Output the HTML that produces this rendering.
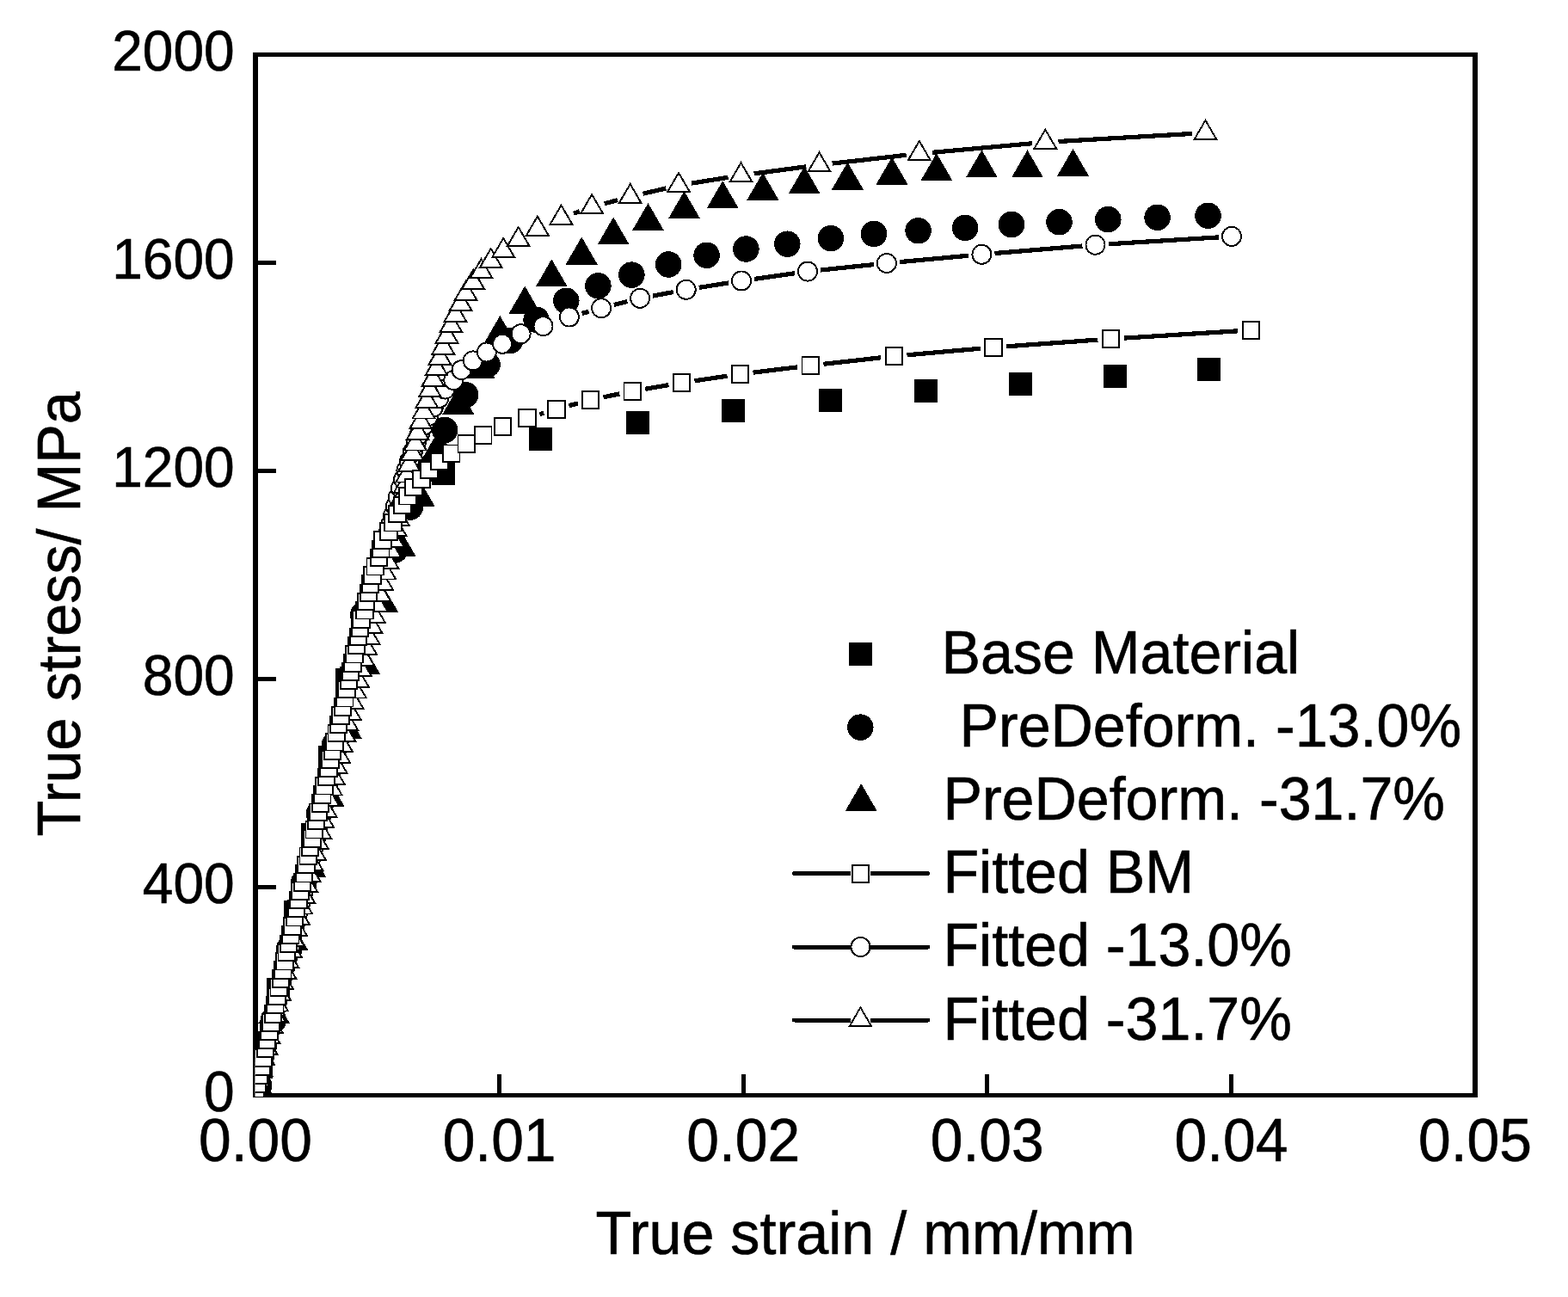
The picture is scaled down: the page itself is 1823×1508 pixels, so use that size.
<!DOCTYPE html><html><head><meta charset="utf-8"><style>html,body{margin:0;padding:0;background:#fff;overflow:hidden}svg{display:block}</style></head><body><svg width="1823" height="1508" viewBox="0 0 1823 1508">
<rect width="100%" height="100%" fill="#fff"/><g shape-rendering="crispEdges">
<g fill="#000">
<rect x="294" y="61" width="6" height="1215"/>
<rect x="1712" y="61" width="6" height="1215"/>
<rect x="294" y="61" width="1424" height="5"/>
<rect x="294" y="1271" width="1424" height="5"/>
<rect x="300" y="1029" width="21" height="5"/>
<rect x="300" y="787" width="21" height="5"/>
<rect x="300" y="545" width="21" height="5"/>
<rect x="300" y="303" width="21" height="5"/>
<rect x="578.1" y="1249" width="5" height="22"/>
<rect x="861.7" y="1249" width="5" height="22"/>
<rect x="1145.3" y="1249" width="5" height="22"/>
<rect x="1428.9" y="1249" width="5" height="22"/>
</g>
<defs><clipPath id="pc"><rect x="296.8" y="63.5" width="1418.2" height="1211.4"/></clipPath></defs>
<g clip-path="url(#pc)">
<g fill="#000"><rect x="290.4" y="1226.5" width="27.0" height="27.0"/><rect x="310.4" y="1136.5" width="27.0" height="27.0"/><rect x="330.3" y="1046.5" width="27.0" height="27.0"/><rect x="350.2" y="956.5" width="27.0" height="27.0"/><rect x="370.2" y="866.5" width="27.0" height="27.0"/><rect x="390.1" y="776.5" width="27.0" height="27.0"/><rect x="501.7" y="536.7" width="27.0" height="27.0"/><rect x="615.2" y="496.9" width="27.0" height="27.0"/><rect x="727.8" y="478" width="27.0" height="27.0"/><rect x="839.3" y="464.4" width="27.0" height="27.0"/><rect x="951.9" y="452.3" width="27.0" height="27.0"/><rect x="1062.5" y="441.2" width="27.0" height="27.0"/><rect x="1173" y="433" width="27.0" height="27.0"/><rect x="1283.1" y="423.9" width="27.0" height="27.0"/><rect x="1392.4" y="416.4" width="27.0" height="27.0"/></g>
<g fill="#000"><circle cx="301" cy="1262" r="15.25"/><circle cx="317.9" cy="1186" r="15.25"/><circle cx="336.3" cy="1103" r="15.25"/><circle cx="353.3" cy="1026" r="15.25"/><circle cx="371" cy="946" r="15.25"/><circle cx="388.8" cy="866" r="15.25"/><circle cx="406.5" cy="786" r="15.25"/><circle cx="422.2" cy="715" r="15.25"/><circle cx="459.2" cy="639.5" r="15.25"/><circle cx="477" cy="589.5" r="15.25"/><circle cx="497" cy="545" r="15.25"/><circle cx="517.2" cy="500" r="15.25"/><circle cx="541" cy="459.1" r="15.25"/><circle cx="566.6" cy="424" r="15.25"/><circle cx="593" cy="396" r="15.25"/><circle cx="623.6" cy="371.8" r="15.25"/><circle cx="658.3" cy="349.8" r="15.25"/><circle cx="695.4" cy="332.3" r="15.25"/><circle cx="734.4" cy="319.6" r="15.25"/><circle cx="777.2" cy="307.5" r="15.25"/><circle cx="821.6" cy="296.8" r="15.25"/><circle cx="867.4" cy="289.5" r="15.25"/><circle cx="915.3" cy="283.7" r="15.25"/><circle cx="965.9" cy="277.2" r="15.25"/><circle cx="1016" cy="271.9" r="15.25"/><circle cx="1067.6" cy="268.2" r="15.25"/><circle cx="1122.2" cy="264.9" r="15.25"/><circle cx="1176" cy="261" r="15.25"/><circle cx="1231.5" cy="258.2" r="15.25"/><circle cx="1288.3" cy="255.1" r="15.25"/><circle cx="1345.6" cy="252.8" r="15.25"/><circle cx="1404.5" cy="250.8" r="15.25"/></g>
<g fill="#000"><path d="M298 1240L316.5 1272H279.5Z"/><path d="M318.6 1158L337.1 1190H300.1Z"/><path d="M339.6 1072.5L358.1 1104.5H321.1Z"/><path d="M360.6 987.7L379.1 1019.7H342.1Z"/><path d="M382.2 905.9L400.7 937.9H363.7Z"/><path d="M402.4 827.1L420.9 859.1H383.9Z"/><path d="M423.6 751.8L442.1 783.8H405.1Z"/><path d="M444.6 679.7L463.1 711.7H426.1Z"/><path d="M465.1 615L483.6 647H446.6Z"/><path d="M487 556.6L505.5 588.6H468.5Z"/><path d="M510 500L528.5 532H491.5Z"/><path d="M532.8 449.7L551.3 481.7H514.3Z"/><path d="M557 408L575.5 440H538.5Z"/><path d="M581.3 367L599.8 399H562.8Z"/><path d="M610.2 332.5L628.7 364.5H591.7Z"/><path d="M641.3 301.4L659.8 333.4H622.8Z"/><path d="M676.2 275.5L694.7 307.5H657.7Z"/><path d="M713.2 252.4L731.7 284.4H694.7Z"/><path d="M753.5 236.1L772 268.1H735Z"/><path d="M795.5 222.2L814 254.2H777Z"/><path d="M840.2 210.2L858.7 242.2H821.7Z"/><path d="M886.9 200.6L905.4 232.6H868.4Z"/><path d="M935.2 193.3L953.7 225.3H916.7Z"/><path d="M985.4 188.5L1003.9 220.5H966.9Z"/><path d="M1037 182.6L1055.5 214.6H1018.5Z"/><path d="M1088.9 178.1L1107.4 210.1H1070.4Z"/><path d="M1194.5 174.4L1213 206.4H1176Z"/><path d="M1141.4 174.4L1159.9 206.4H1122.9Z"/><path d="M1247.5 172.8L1266 204.8H1229Z"/></g>
<path d="M676.5 364.4L684.5 362.3M713.8 354.5L729.4 350.5M759 344L782.8 339.6M812.7 334.4L847 328.9M877 324.4L924 317.7M954.1 314L1015.8 307.6M1046 304.6L1126.3 297.2M1156.5 294.5L1258.4 286M1288.7 283.8L1416.8 275.9" stroke="#000" stroke-width="5.2" fill="none"/>
<g fill="#fff" stroke="#000" stroke-width="1.9"><circle cx="297.5" cy="1269.2" r="11.05"/><circle cx="300" cy="1258.8" r="11.05"/><circle cx="302.4" cy="1248.3" r="11.05"/><circle cx="304.9" cy="1237.8" r="11.05"/><circle cx="307.4" cy="1227.4" r="11.05"/><circle cx="309.9" cy="1216.9" r="11.05"/><circle cx="312.3" cy="1206.4" r="11.05"/><circle cx="314.8" cy="1195.9" r="11.05"/><circle cx="317.3" cy="1185.5" r="11.05"/><circle cx="319.7" cy="1175" r="11.05"/><circle cx="322.2" cy="1164.5" r="11.05"/><circle cx="324.7" cy="1154.1" r="11.05"/><circle cx="327.2" cy="1143.6" r="11.05"/><circle cx="329.6" cy="1133.1" r="11.05"/><circle cx="332.1" cy="1122.7" r="11.05"/><circle cx="334.6" cy="1112.2" r="11.05"/><circle cx="337" cy="1101.7" r="11.05"/><circle cx="339.5" cy="1091.2" r="11.05"/><circle cx="342" cy="1080.8" r="11.05"/><circle cx="344.5" cy="1070.3" r="11.05"/><circle cx="346.9" cy="1059.8" r="11.05"/><circle cx="349.4" cy="1049.4" r="11.05"/><circle cx="351.9" cy="1038.9" r="11.05"/><circle cx="354.3" cy="1028.4" r="11.05"/><circle cx="356.8" cy="1018" r="11.05"/><circle cx="359.3" cy="1007.5" r="11.05"/><circle cx="361.8" cy="997" r="11.05"/><circle cx="364.2" cy="986.5" r="11.05"/><circle cx="366.7" cy="976.1" r="11.05"/><circle cx="369.2" cy="965.6" r="11.05"/><circle cx="371.6" cy="955.1" r="11.05"/><circle cx="374.1" cy="944.7" r="11.05"/><circle cx="376.6" cy="934.2" r="11.05"/><circle cx="379" cy="923.7" r="11.05"/><circle cx="381.5" cy="913.3" r="11.05"/><circle cx="384" cy="902.8" r="11.05"/><circle cx="386.5" cy="892.3" r="11.05"/><circle cx="388.9" cy="881.8" r="11.05"/><circle cx="391.4" cy="871.4" r="11.05"/><circle cx="393.9" cy="860.9" r="11.05"/><circle cx="396.3" cy="850.4" r="11.05"/><circle cx="398.8" cy="840" r="11.05"/><circle cx="401.3" cy="829.5" r="11.05"/><circle cx="403.8" cy="819" r="11.05"/><circle cx="406.2" cy="808.6" r="11.05"/><circle cx="408.7" cy="798.1" r="11.05"/><circle cx="411.2" cy="787.6" r="11.05"/><circle cx="413.7" cy="777.1" r="11.05"/><circle cx="416.1" cy="766.7" r="11.05"/><circle cx="418.6" cy="756.2" r="11.05"/><circle cx="421.1" cy="745.7" r="11.05"/><circle cx="423.6" cy="735.3" r="11.05"/><circle cx="426.1" cy="724.8" r="11.05"/><circle cx="428.6" cy="714.3" r="11.05"/><circle cx="431.1" cy="703.9" r="11.05"/><circle cx="433.6" cy="693.4" r="11.05"/><circle cx="436.1" cy="682.9" r="11.05"/><circle cx="438.6" cy="672.4" r="11.05"/><circle cx="441.2" cy="662" r="11.05"/><circle cx="443.7" cy="651.5" r="11.05"/><circle cx="446.3" cy="641" r="11.05"/><circle cx="448.9" cy="630.6" r="11.05"/><circle cx="451.6" cy="620.1" r="11.05"/><circle cx="454.3" cy="609.6" r="11.05"/><circle cx="457.1" cy="599.2" r="11.05"/><circle cx="459.9" cy="588.7" r="11.05"/><circle cx="462.8" cy="578.2" r="11.05"/><circle cx="465.9" cy="567.7" r="11.05"/><circle cx="469.1" cy="557.3" r="11.05"/><circle cx="472.4" cy="546.8" r="11.05"/><circle cx="475.9" cy="536.3" r="11.05"/><circle cx="479.7" cy="525.9" r="11.05"/><circle cx="483.7" cy="515.4" r="11.05"/><circle cx="488" cy="504.9" r="11.05"/><circle cx="492.8" cy="494.5" r="11.05"/><circle cx="498" cy="484" r="11.05"/><circle cx="503.8" cy="473.5" r="11.05"/><circle cx="510.3" cy="463" r="11.05"/><circle cx="517.5" cy="452.6" r="11.05"/><circle cx="527.3" cy="442.1" r="11.05"/><circle cx="536.6" cy="430.1" r="11.05"/><circle cx="549.8" cy="419.4" r="11.05"/><circle cx="565.9" cy="409.5" r="11.05"/><circle cx="584" cy="399.8" r="11.05"/><circle cx="605.6" cy="388.2" r="11.05"/><circle cx="631.5" cy="379.2" r="11.05"/><circle cx="661.9" cy="368.5" r="11.05"/><circle cx="699.1" cy="358.2" r="11.05"/><circle cx="744.1" cy="346.8" r="11.05"/><circle cx="797.7" cy="336.8" r="11.05"/><circle cx="862" cy="326.5" r="11.05"/><circle cx="939" cy="315.6" r="11.05"/><circle cx="1030.9" cy="306" r="11.05"/><circle cx="1141.4" cy="295.8" r="11.05"/><circle cx="1273.5" cy="284.7" r="11.05"/><circle cx="1432" cy="274.9" r="11.05"/></g>
<path d="M666.8 248.3L673.8 245.8M702.8 236.8L718 232.6M747.5 225.2L774.2 219M804 213.1L846.5 206.3M876.6 201.9L937.4 193.8M967.6 190.1L1053.7 180.3M1083.9 177.3L1200.2 166.7M1230.5 164.5L1386.3 155.4" stroke="#000" stroke-width="5.2" fill="none"/>
<g><path d="M297 1252L311.4 1276.8L282.5 1276.8Z"/><path fill="#fff" d="M297 1255.8L308.1 1274.9L285.8 1274.9Z"/><path d="M300.1 1239.4L314.5 1264.2L285.6 1264.2Z"/><path fill="#fff" d="M300.1 1243.2L311.2 1262.3L289 1262.3Z"/><path d="M303.2 1226.9L317.7 1251.7L288.8 1251.7Z"/><path fill="#fff" d="M303.2 1230.7L314.4 1249.8L292.1 1249.8Z"/><path d="M306.4 1214.3L320.8 1239.1L291.9 1239.1Z"/><path fill="#fff" d="M306.4 1218.1L317.5 1237.2L295.2 1237.2Z"/><path d="M309.5 1201.8L324 1226.6L295.1 1226.6Z"/><path fill="#fff" d="M309.5 1205.6L320.6 1224.7L298.4 1224.7Z"/><path d="M312.6 1189.2L327.1 1214L298.2 1214Z"/><path fill="#fff" d="M312.6 1193L323.8 1212.1L301.5 1212.1Z"/><path d="M315.8 1176.7L330.2 1201.5L301.3 1201.5Z"/><path fill="#fff" d="M315.8 1180.5L326.9 1199.6L304.6 1199.6Z"/><path d="M318.9 1164.1L333.4 1188.9L304.5 1188.9Z"/><path fill="#fff" d="M318.9 1167.9L330 1187L307.8 1187Z"/><path d="M322 1151.6L336.5 1176.4L307.6 1176.4Z"/><path fill="#fff" d="M322 1155.4L333.2 1174.5L310.9 1174.5Z"/><path d="M325.2 1139L339.6 1163.8L310.7 1163.8Z"/><path fill="#fff" d="M325.2 1142.8L336.3 1161.9L314 1161.9Z"/><path d="M328.3 1126.5L342.8 1151.3L313.9 1151.3Z"/><path fill="#fff" d="M328.3 1130.3L339.4 1149.4L317.2 1149.4Z"/><path d="M331.4 1113.9L345.9 1138.7L317 1138.7Z"/><path fill="#fff" d="M331.4 1117.7L342.6 1136.8L320.3 1136.8Z"/><path d="M334.6 1101.4L349 1126.2L320.1 1126.2Z"/><path fill="#fff" d="M334.6 1105.2L345.7 1124.3L323.4 1124.3Z"/><path d="M337.7 1088.8L352.2 1113.6L323.3 1113.6Z"/><path fill="#fff" d="M337.7 1092.6L348.8 1111.7L326.6 1111.7Z"/><path d="M340.8 1076.3L355.3 1101.1L326.4 1101.1Z"/><path fill="#fff" d="M340.8 1080.1L352 1099.2L329.7 1099.2Z"/><path d="M344 1063.7L358.4 1088.5L329.5 1088.5Z"/><path fill="#fff" d="M344 1067.5L355.1 1086.6L332.8 1086.6Z"/><path d="M347.1 1051.2L361.6 1076L332.7 1076Z"/><path fill="#fff" d="M347.1 1055L358.2 1074.1L336 1074.1Z"/><path d="M350.2 1038.6L364.7 1063.4L335.8 1063.4Z"/><path fill="#fff" d="M350.2 1042.4L361.4 1061.5L339.1 1061.5Z"/><path d="M353.4 1026.1L367.8 1050.9L338.9 1050.9Z"/><path fill="#fff" d="M353.4 1029.9L364.5 1049L342.2 1049Z"/><path d="M356.5 1013.5L371 1038.3L342.1 1038.3Z"/><path fill="#fff" d="M356.5 1017.3L367.7 1036.4L345.4 1036.4Z"/><path d="M359.6 1001L374.1 1025.8L345.2 1025.8Z"/><path fill="#fff" d="M359.6 1004.8L370.8 1023.9L348.5 1023.9Z"/><path d="M362.8 988.4L377.2 1013.2L348.3 1013.2Z"/><path fill="#fff" d="M362.8 992.2L373.9 1011.3L351.6 1011.3Z"/><path d="M365.9 975.9L380.4 1000.7L351.5 1000.7Z"/><path fill="#fff" d="M365.9 979.7L377.1 998.8L354.8 998.8Z"/><path d="M369 963.3L383.5 988.1L354.6 988.1Z"/><path fill="#fff" d="M369 967.1L380.2 986.2L357.9 986.2Z"/><path d="M372.2 950.8L386.6 975.6L357.7 975.6Z"/><path fill="#fff" d="M372.2 954.6L383.3 973.7L361 973.7Z"/><path d="M375.3 938.2L389.8 963L360.9 963Z"/><path fill="#fff" d="M375.3 942L386.5 961.1L364.2 961.1Z"/><path d="M378.4 925.7L392.9 950.5L364 950.5Z"/><path fill="#fff" d="M378.4 929.5L389.6 948.6L367.3 948.6Z"/><path d="M381.6 913.1L396 937.9L367.1 937.9Z"/><path fill="#fff" d="M381.6 916.9L392.7 936L370.4 936Z"/><path d="M384.7 900.6L399.2 925.4L370.3 925.4Z"/><path fill="#fff" d="M384.7 904.4L395.9 923.5L373.6 923.5Z"/><path d="M387.8 888L402.3 912.8L373.4 912.8Z"/><path fill="#fff" d="M387.8 891.8L399 910.9L376.7 910.9Z"/><path d="M391 875.5L405.4 900.3L376.5 900.3Z"/><path fill="#fff" d="M391 879.3L402.1 898.4L379.8 898.4Z"/><path d="M394.1 862.9L408.6 887.7L379.7 887.7Z"/><path fill="#fff" d="M394.1 866.7L405.3 885.8L383 885.8Z"/><path d="M397.2 850.4L411.7 875.2L382.8 875.2Z"/><path fill="#fff" d="M397.2 854.2L408.4 873.3L386.1 873.3Z"/><path d="M400.4 837.8L414.8 862.6L385.9 862.6Z"/><path fill="#fff" d="M400.4 841.6L411.5 860.7L389.2 860.7Z"/><path d="M403.5 825.3L418 850.1L389.1 850.1Z"/><path fill="#fff" d="M403.5 829.1L414.7 848.2L392.4 848.2Z"/><path d="M406.6 812.7L421.1 837.5L392.2 837.5Z"/><path fill="#fff" d="M406.6 816.5L417.8 835.6L395.5 835.6Z"/><path d="M409.8 800.2L424.2 825L395.3 825Z"/><path fill="#fff" d="M409.8 804L420.9 823.1L398.6 823.1Z"/><path d="M412.9 787.6L427.4 812.4L398.5 812.4Z"/><path fill="#fff" d="M412.9 791.4L424.1 810.5L401.8 810.5Z"/><path d="M416 775.1L430.5 799.9L401.6 799.9Z"/><path fill="#fff" d="M416 778.9L427.2 798L404.9 798Z"/><path d="M419.2 762.5L433.6 787.3L404.7 787.3Z"/><path fill="#fff" d="M419.2 766.3L430.3 785.4L408 785.4Z"/><path d="M422.3 750L436.8 774.8L407.9 774.8Z"/><path fill="#fff" d="M422.3 753.8L433.5 772.9L411.2 772.9Z"/><path d="M425.4 737.4L439.9 762.2L411 762.2Z"/><path fill="#fff" d="M425.4 741.2L436.6 760.3L414.3 760.3Z"/><path d="M428.6 724.9L443 749.7L414.1 749.7Z"/><path fill="#fff" d="M428.6 728.7L439.7 747.8L417.4 747.8Z"/><path d="M431.7 712.3L446.2 737.1L417.3 737.1Z"/><path fill="#fff" d="M431.7 716.1L442.9 735.2L420.6 735.2Z"/><path d="M434.8 699.8L449.3 724.6L420.4 724.6Z"/><path fill="#fff" d="M434.8 703.6L446 722.7L423.7 722.7Z"/><path d="M438 687.2L452.4 712L423.5 712Z"/><path fill="#fff" d="M438 691L449.1 710.1L426.8 710.1Z"/><path d="M441.1 674.7L455.6 699.5L426.7 699.5Z"/><path fill="#fff" d="M441.1 678.5L452.3 697.6L430 697.6Z"/><path d="M444.3 662.1L458.7 686.9L429.8 686.9Z"/><path fill="#fff" d="M444.3 665.9L455.4 685L433.1 685Z"/><path d="M447.4 649.6L461.8 674.4L432.9 674.4Z"/><path fill="#fff" d="M447.4 653.4L458.5 672.5L436.2 672.5Z"/><path d="M450.5 637L465 661.8L436.1 661.8Z"/><path fill="#fff" d="M450.5 640.8L461.7 659.9L439.4 659.9Z"/><path d="M453.7 624.5L468.1 649.3L439.2 649.3Z"/><path fill="#fff" d="M453.7 628.3L464.8 647.4L442.5 647.4Z"/><path d="M456.8 611.9L471.2 636.7L442.3 636.7Z"/><path fill="#fff" d="M456.8 615.7L467.9 634.8L445.6 634.8Z"/><path d="M459.9 599.4L474.4 624.2L445.5 624.2Z"/><path fill="#fff" d="M459.9 603.2L471.1 622.3L448.8 622.3Z"/><path d="M462.7 586.8L477.2 611.6L448.3 611.6Z"/><path fill="#fff" d="M462.7 590.6L473.9 609.7L451.6 609.7Z"/><path d="M465.3 574.3L479.8 599.1L450.9 599.1Z"/><path fill="#fff" d="M465.3 578.1L476.5 597.2L454.2 597.2Z"/><path d="M467.9 561.7L482.4 586.5L453.5 586.5Z"/><path fill="#fff" d="M467.9 565.5L479.1 584.6L456.8 584.6Z"/><path d="M470.6 549.2L485 574L456.1 574Z"/><path fill="#fff" d="M470.6 553L481.7 572.1L459.4 572.1Z"/><path d="M473.2 536.6L487.6 561.4L458.7 561.4Z"/><path fill="#fff" d="M473.2 540.4L484.3 559.5L462 559.5Z"/><path d="M475.8 524.1L490.2 548.9L461.4 548.9Z"/><path fill="#fff" d="M475.8 527.9L486.9 547L464.7 547Z"/><path d="M479.4 510.9L493.8 535.7L464.9 535.7Z"/><path fill="#fff" d="M479.4 514.7L490.5 533.8L468.3 533.8Z"/><path d="M482.9 499.6L497.3 524.4L468.4 524.4Z"/><path fill="#fff" d="M482.9 503.4L494 522.5L471.8 522.5Z"/><path d="M485.6 487.1L500.1 511.9L471.2 511.9Z"/><path fill="#fff" d="M485.6 490.9L496.7 510L474.5 510Z"/><path d="M489.1 474.5L503.6 499.3L474.7 499.3Z"/><path fill="#fff" d="M489.1 478.3L500.2 497.4L478 497.4Z"/><path d="M492.6 462.6L507.1 487.4L478.2 487.4Z"/><path fill="#fff" d="M492.6 466.4L503.7 485.5L481.5 485.5Z"/><path d="M496.3 450.1L510.8 474.9L481.9 474.9Z"/><path fill="#fff" d="M496.3 453.9L507.4 473L485.2 473Z"/><path d="M499.8 437.5L514.2 462.3L485.4 462.3Z"/><path fill="#fff" d="M499.8 441.3L510.9 460.4L488.7 460.4Z"/><path d="M503.4 425L517.9 449.8L488.9 449.8Z"/><path fill="#fff" d="M503.4 428.8L514.5 447.9L492.3 447.9Z"/><path d="M507.4 412.5L521.9 437.3L492.9 437.3Z"/><path fill="#fff" d="M507.4 416.3L518.5 435.4L496.3 435.4Z"/><path d="M511.4 399.9L525.9 424.7L496.9 424.7Z"/><path fill="#fff" d="M511.4 403.7L522.5 422.8L500.3 422.8Z"/><path d="M515.3 387.7L529.8 412.5L500.8 412.5Z"/><path fill="#fff" d="M515.3 391.5L526.4 410.6L504.2 410.6Z"/><path d="M519.5 374.7L534 399.5L505.1 399.5Z"/><path fill="#fff" d="M519.5 378.5L530.6 397.6L508.4 397.6Z"/><path d="M524.4 362.2L538.9 387L509.9 387Z"/><path fill="#fff" d="M524.4 366L535.5 385.1L513.3 385.1Z"/><path d="M529.4 349.9L543.9 374.7L514.9 374.7Z"/><path fill="#fff" d="M529.4 353.7L540.5 372.8L518.3 372.8Z"/><path d="M535.6 337.1L550.1 361.9L521.1 361.9Z"/><path fill="#fff" d="M535.6 340.9L546.7 360L524.5 360Z"/><path d="M541.6 325L556.1 349.8L527.1 349.8Z"/><path fill="#fff" d="M541.6 328.8L552.7 347.9L530.5 347.9Z"/><path d="M550.1 311.8L564.6 336.6L535.6 336.6Z"/><path fill="#fff" d="M550.1 315.6L561.2 334.7L539 334.7Z"/><path d="M559.5 299.3L574 324.1L545 324.1Z"/><path fill="#fff" d="M559.5 303.1L570.6 322.2L548.4 322.2Z"/><path d="M570.7 287.2L585.2 312L556.2 312Z"/><path fill="#fff" d="M570.7 291L581.8 310.1L559.6 310.1Z"/><path d="M585.2 275L599.7 299.8L570.8 299.8Z"/><path fill="#fff" d="M585.2 278.8L596.3 297.9L574.1 297.9Z"/><path d="M602.7 262.2L617.2 287L588.2 287Z"/><path fill="#fff" d="M602.7 266L613.8 285.1L591.6 285.1Z"/><path d="M624.9 249.7L639.4 274.5L610.4 274.5Z"/><path fill="#fff" d="M624.9 253.5L636 272.6L613.8 272.6Z"/><path d="M652.5 236.8L667 261.6L638 261.6Z"/><path fill="#fff" d="M652.5 240.6L663.6 259.7L641.4 259.7Z"/><path d="M688.1 224.2L702.6 249L673.6 249Z"/><path fill="#fff" d="M688.1 228L699.2 247.1L677 247.1Z"/><path d="M732.7 212.1L747.2 236.9L718.2 236.9Z"/><path fill="#fff" d="M732.7 215.9L743.8 235L721.6 235Z"/><path d="M789 199L803.5 223.8L774.5 223.8Z"/><path fill="#fff" d="M789 202.8L800.1 221.9L777.9 221.9Z"/><path d="M861.5 187.4L876 212.2L847 212.2Z"/><path fill="#fff" d="M861.5 191.2L872.6 210.3L850.4 210.3Z"/><path d="M952.5 175.3L967 200.1L938 200.1Z"/><path fill="#fff" d="M952.5 179.1L963.6 198.2L941.4 198.2Z"/><path d="M1068.8 162.1L1083.2 186.9L1054.3 186.9Z"/><path fill="#fff" d="M1068.8 165.9L1079.9 185L1057.7 185Z"/><path d="M1215.3 148.8L1229.8 173.6L1200.8 173.6Z"/><path fill="#fff" d="M1215.3 152.6L1226.4 171.7L1204.2 171.7Z"/><path d="M1401.5 138L1415.9 162.8L1387 162.8Z"/><path fill="#fff" d="M1401.5 141.8L1412.6 160.9L1390.3 160.9Z"/></g>
<path d="M627.5 481.6L632.3 480.1M661.5 471.7L672 468.9M701.5 461.8L720.3 457.9M750.2 452.3L777.5 447.6M807.5 442.8L845.5 437.2M875.6 433.2L927.2 426.8M957.4 423.3L1024.3 415.8M1054.5 412.8L1139.8 405.2M1170.1 402.8L1276.4 395.1M1306.8 393.1L1439.3 384.8" stroke="#000" stroke-width="5.2" fill="none"/>
<g fill="#fff" stroke="#000" stroke-width="1.9"><rect x="287.4" y="1260.9" width="19.5" height="19.5"/><rect x="289.6" y="1250.8" width="19.5" height="19.5"/><rect x="291.9" y="1240.5" width="19.5" height="19.5"/><rect x="294.1" y="1230.3" width="19.5" height="19.5"/><rect x="296.4" y="1220.2" width="19.5" height="19.5"/><rect x="298.7" y="1209.9" width="19.5" height="19.5"/><rect x="300.9" y="1199.8" width="19.5" height="19.5"/><rect x="303.2" y="1189.5" width="19.5" height="19.5"/><rect x="305.4" y="1179.3" width="19.5" height="19.5"/><rect x="307.7" y="1169.2" width="19.5" height="19.5"/><rect x="310" y="1158.9" width="19.5" height="19.5"/><rect x="312.2" y="1148.8" width="19.5" height="19.5"/><rect x="314.5" y="1138.5" width="19.5" height="19.5"/><rect x="316.7" y="1128.3" width="19.5" height="19.5"/><rect x="319" y="1118.2" width="19.5" height="19.5"/><rect x="321.3" y="1108" width="19.5" height="19.5"/><rect x="323.5" y="1097.8" width="19.5" height="19.5"/><rect x="325.8" y="1087.5" width="19.5" height="19.5"/><rect x="328" y="1077.3" width="19.5" height="19.5"/><rect x="330.3" y="1067.2" width="19.5" height="19.5"/><rect x="332.6" y="1057" width="19.5" height="19.5"/><rect x="334.8" y="1046.8" width="19.5" height="19.5"/><rect x="337.1" y="1036.5" width="19.5" height="19.5"/><rect x="339.3" y="1026.3" width="19.5" height="19.5"/><rect x="341.6" y="1016.2" width="19.5" height="19.5"/><rect x="343.9" y="1006" width="19.5" height="19.5"/><rect x="346.1" y="995.8" width="19.5" height="19.5"/><rect x="348.5" y="985.5" width="19.5" height="19.5"/><rect x="350.8" y="975.4" width="19.5" height="19.5"/><rect x="353.2" y="965.1" width="19.5" height="19.5"/><rect x="355.5" y="955" width="19.5" height="19.5"/><rect x="357.9" y="944.8" width="19.5" height="19.5"/><rect x="360.3" y="934.5" width="19.5" height="19.5"/><rect x="362.6" y="924.4" width="19.5" height="19.5"/><rect x="365" y="914.1" width="19.5" height="19.5"/><rect x="367.3" y="904" width="19.5" height="19.5"/><rect x="369.7" y="893.8" width="19.5" height="19.5"/><rect x="372.1" y="883.5" width="19.5" height="19.5"/><rect x="374.4" y="873.4" width="19.5" height="19.5"/><rect x="376.8" y="863.1" width="19.5" height="19.5"/><rect x="379.2" y="853" width="19.5" height="19.5"/><rect x="381.5" y="842.8" width="19.5" height="19.5"/><rect x="383.9" y="832.5" width="19.5" height="19.5"/><rect x="386.2" y="822.4" width="19.5" height="19.5"/><rect x="388.6" y="812.1" width="19.5" height="19.5"/><rect x="391" y="802" width="19.5" height="19.5"/><rect x="393.3" y="791.8" width="19.5" height="19.5"/><rect x="395.6" y="781.5" width="19.5" height="19.5"/><rect x="397.8" y="771.4" width="19.5" height="19.5"/><rect x="400.1" y="761.1" width="19.5" height="19.5"/><rect x="402.3" y="751" width="19.5" height="19.5"/><rect x="404.6" y="740.8" width="19.5" height="19.5"/><rect x="406.9" y="730.5" width="19.5" height="19.5"/><rect x="408.7" y="720.4" width="19.5" height="19.5"/><rect x="410.5" y="710.1" width="19.5" height="19.5"/><rect x="414.1" y="700" width="19.5" height="19.5"/><rect x="415.7" y="689.8" width="19.5" height="19.5"/><rect x="418.6" y="679.6" width="19.5" height="19.5"/><rect x="420.7" y="669.4" width="19.5" height="19.5"/><rect x="423.4" y="659.1" width="19.5" height="19.5"/><rect x="426.5" y="649" width="19.5" height="19.5"/><rect x="430.6" y="638.8" width="19.5" height="19.5"/><rect x="433" y="628.6" width="19.5" height="19.5"/><rect x="435.4" y="618.4" width="19.5" height="19.5"/><rect x="442.2" y="608.4" width="19.5" height="19.5"/><rect x="447.4" y="598" width="19.5" height="19.5"/><rect x="452.4" y="587.9" width="19.5" height="19.5"/><rect x="458.4" y="577.9" width="19.5" height="19.5"/><rect x="464.4" y="567" width="19.5" height="19.5"/><rect x="471.4" y="556.9" width="19.5" height="19.5"/><rect x="480.2" y="547.4" width="19.5" height="19.5"/><rect x="489.2" y="536.9" width="19.5" height="19.5"/><rect x="501.1" y="526.8" width="19.5" height="19.5"/><rect x="515" y="517.5" width="19.5" height="19.5"/><rect x="532.5" y="506.2" width="19.5" height="19.5"/><rect x="552" y="496.1" width="19.5" height="19.5"/><rect x="574.6" y="486.2" width="19.5" height="19.5"/><rect x="603.1" y="476.1" width="19.5" height="19.5"/><rect x="637.1" y="466.1" width="19.5" height="19.5"/><rect x="676.9" y="455.1" width="19.5" height="19.5"/><rect x="725.5" y="445.1" width="19.5" height="19.5"/><rect x="782.8" y="435.2" width="19.5" height="19.5"/><rect x="850.8" y="425.2" width="19.5" height="19.5"/><rect x="932.5" y="415.2" width="19.5" height="19.5"/><rect x="1029.7" y="404.4" width="19.5" height="19.5"/><rect x="1145.2" y="394.1" width="19.5" height="19.5"/><rect x="1281.8" y="384.2" width="19.5" height="19.5"/><rect x="1444.8" y="374.1" width="19.5" height="19.5"/></g>
</g>
<text font-family="Liberation Sans, Arial, sans-serif" stroke="#000" stroke-width="0.6" font-size="64" text-anchor="end" xml:space="preserve" transform="translate(272.6 1291.9) scale(1 1.04)">0</text>
<text font-family="Liberation Sans, Arial, sans-serif" stroke="#000" stroke-width="0.6" font-size="64" text-anchor="end" xml:space="preserve" transform="translate(272.6 1049.9) scale(1 1.04)">400</text>
<text font-family="Liberation Sans, Arial, sans-serif" stroke="#000" stroke-width="0.6" font-size="64" text-anchor="end" xml:space="preserve" transform="translate(272.6 807.9) scale(1 1.04)">800</text>
<text font-family="Liberation Sans, Arial, sans-serif" stroke="#000" stroke-width="0.6" font-size="64" text-anchor="end" xml:space="preserve" transform="translate(272.6 565.9) scale(1 1.04)">1200</text>
<text font-family="Liberation Sans, Arial, sans-serif" stroke="#000" stroke-width="0.6" font-size="64" text-anchor="end" xml:space="preserve" transform="translate(272.6 323.9) scale(1 1.04)">1600</text>
<text font-family="Liberation Sans, Arial, sans-serif" stroke="#000" stroke-width="0.6" font-size="64" text-anchor="end" xml:space="preserve" transform="translate(272.6 81.9) scale(1 1.04)">2000</text>
<text font-family="Liberation Sans, Arial, sans-serif" stroke="#000" stroke-width="0.6" font-size="67.8" text-anchor="middle" xml:space="preserve" transform="translate(297 1350) scale(1 1.04)">0.00</text>
<text font-family="Liberation Sans, Arial, sans-serif" stroke="#000" stroke-width="0.6" font-size="67.8" text-anchor="middle" xml:space="preserve" transform="translate(580.6 1350) scale(1 1.04)">0.01</text>
<text font-family="Liberation Sans, Arial, sans-serif" stroke="#000" stroke-width="0.6" font-size="67.8" text-anchor="middle" xml:space="preserve" transform="translate(864.2 1350) scale(1 1.04)">0.02</text>
<text font-family="Liberation Sans, Arial, sans-serif" stroke="#000" stroke-width="0.6" font-size="67.8" text-anchor="middle" xml:space="preserve" transform="translate(1147.8 1350) scale(1 1.04)">0.03</text>
<text font-family="Liberation Sans, Arial, sans-serif" stroke="#000" stroke-width="0.6" font-size="67.8" text-anchor="middle" xml:space="preserve" transform="translate(1431.4 1350) scale(1 1.04)">0.04</text>
<text font-family="Liberation Sans, Arial, sans-serif" stroke="#000" stroke-width="0.6" font-size="67.8" text-anchor="middle" xml:space="preserve" transform="translate(1715 1350) scale(1 1.04)">0.05</text>
<text font-family="Liberation Sans, Arial, sans-serif" stroke="#000" stroke-width="0.6" font-size="68.3" xml:space="preserve" transform="translate(692.5 1457.8) scale(1 1.04)">True strain / mm/mm</text>
<text font-family="Liberation Sans, Arial, sans-serif" stroke="#000" stroke-width="0.6" font-size="68.3" transform="translate(93 972.4) rotate(-90) scale(1 1.04)">True stress/ MPa</text>
<text font-family="Liberation Sans, Arial, sans-serif" stroke="#000" stroke-width="0.6" font-size="68.2" xml:space="preserve" transform="translate(1094.4 783.2) scale(1 1.04)">Base Material</text>
<text font-family="Liberation Sans, Arial, sans-serif" stroke="#000" stroke-width="0.6" font-size="68.2" xml:space="preserve" transform="translate(1096.5 867.9) scale(1 1.04)"> PreDeform. -13.0%</text>
<text font-family="Liberation Sans, Arial, sans-serif" stroke="#000" stroke-width="0.6" font-size="68.2" xml:space="preserve" transform="translate(1096.4 953) scale(1 1.04)">PreDeform. -31.7%</text>
<text font-family="Liberation Sans, Arial, sans-serif" stroke="#000" stroke-width="0.6" font-size="68.2" xml:space="preserve" transform="translate(1096.4 1037.8) scale(1 1.04)">Fitted BM</text>
<text font-family="Liberation Sans, Arial, sans-serif" stroke="#000" stroke-width="0.6" font-size="68.2" xml:space="preserve" transform="translate(1096.4 1122.8) scale(1 1.04)">Fitted -13.0%</text>
<text font-family="Liberation Sans, Arial, sans-serif" stroke="#000" stroke-width="0.6" font-size="68.2" xml:space="preserve" transform="translate(1096.4 1208.7) scale(1 1.04)">Fitted -31.7%</text>
<g fill="#000"><rect x="987" y="747" width="27.0" height="27.0"/><circle cx="1000.3" cy="845.6" r="15.25"/><path d="M1001.2 911L1019.7 943H982.7Z"/></g>
<path d="M923.5 1015.4H978.5M1022 1015.4H1078.5" stroke="#000" stroke-width="5" stroke-linecap="round"/>
<path d="M978 1015.4H988.7M1012 1015.4H1023" stroke="#000" stroke-width="5"/>
<path d="M923.5 1101.1H978.5M1022 1101.1H1078.5" stroke="#000" stroke-width="5" stroke-linecap="round"/>
<path d="M978 1101.1H988.7M1012 1101.1H1023" stroke="#000" stroke-width="5"/>
<path d="M923.5 1186H978.5M1022 1186H1078.5" stroke="#000" stroke-width="5" stroke-linecap="round"/>
<path d="M978 1186H988.7M1012 1186H1023" stroke="#000" stroke-width="5"/>
<g fill="#fff" stroke="#000" stroke-width="1.9"><rect x="990.7" y="1006.1" width="19.5" height="19.5"/><circle cx="1000.5" cy="1101" r="11.05"/></g>
<path d="M1000.4 1169.5L1014.9 1194.3L985.9 1194.3Z"/><path fill="#fff" d="M1000.4 1173.2L1011.5 1192.4L989.3 1192.4Z"/>
</g></svg></body></html>
